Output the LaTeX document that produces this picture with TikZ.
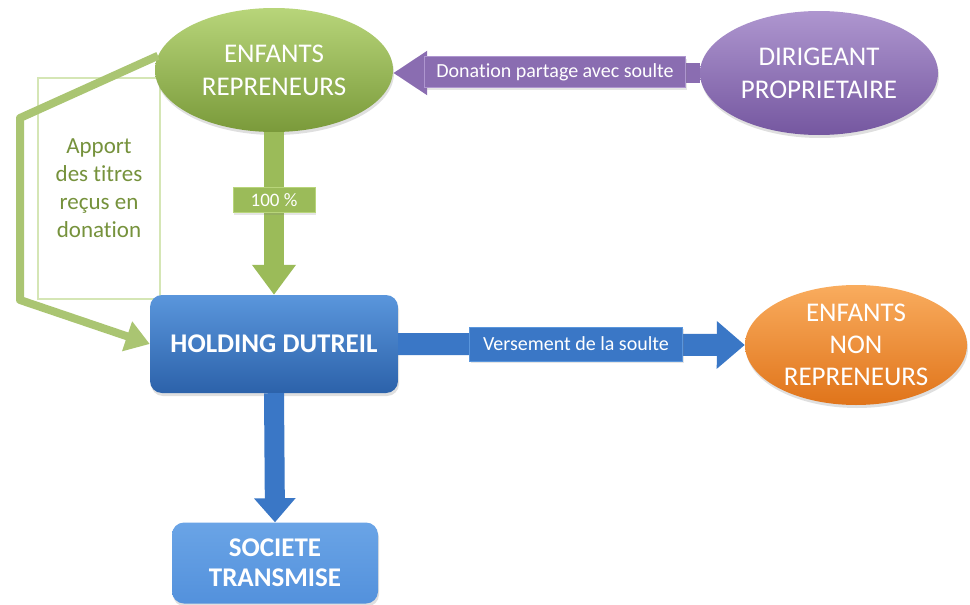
\documentclass[tikz,border=0pt]{standalone}
\usepackage{fontspec}
\setmainfont{Carlito}[Ligatures=NoCommon]
\usetikzlibrary{arrows.meta,shapes.geometric,shadows}
\definecolor{grn}{HTML}{9BBB59}
\definecolor{grnL}{HTML}{B8D57A}
\definecolor{grnD}{HTML}{7A9A3A}
\definecolor{grnT}{HTML}{76923C}
\definecolor{grnF}{HTML}{D5E6B5}
\definecolor{pur}{HTML}{8A6DB1}
\definecolor{purL}{HTML}{AE96CF}
\definecolor{purD}{HTML}{7557A0}
\definecolor{blu}{HTML}{3A77C6}
\definecolor{bluL}{HTML}{5A96DC}
\definecolor{bluD}{HTML}{2C62AA}
\definecolor{sky}{HTML}{5391DC}
\definecolor{skyL}{HTML}{6AA4E6}
\definecolor{orgL}{HTML}{F9AC5E}
\definecolor{orgD}{HTML}{E0741A}
\tikzset{
  ell/.style={ellipse, text=white, align=center, font=\fontsize{27}{33}\selectfont, inner sep=0pt,
    drop shadow={opacity=0.25,shadow xshift=1pt,shadow yshift=-3pt}},
  rbox/.style={rounded corners=12pt, text=white, align=center, font=\bfseries\fontsize{27}{30}\selectfont, inner sep=0pt,
    drop shadow={opacity=0.25,shadow xshift=1pt,shadow yshift=-3pt}},
  lbl/.style={text=white, font=\fontsize{20}{22}\selectfont, inner sep=0pt,
    drop shadow={opacity=0.2,shadow xshift=1pt,shadow yshift=-2pt}},
}
\begin{document}
\begin{tikzpicture}[x=1pt,y=-1pt]
\useasboundingbox (0,0) rectangle (970,605);
\fill[white] (0,0) rectangle (970,605);

% frame of the side text
\node[draw=grnF, line width=2pt, minimum width=122pt, minimum height=221pt, inner sep=0pt,
      text=grnT, align=center, font=\fontsize{23}{28}\selectfont] (apport) at (99,188)
      {Apport\\des titres\\reçus en\\donation};

% nodes
\node[ell, top color=grnL, bottom color=grnD, minimum width=238pt, minimum height=124pt] (enf) at (274,70) {ENFANTS\\REPRENEURS};
\node[ell, top color=purL, bottom color=purD, minimum width=238pt, minimum height=124pt] (dir) at (819,73) {DIRIGEANT\\PROPRIETAIRE};
\node[rbox, top color=bluL, bottom color=bluD, minimum width=248pt, minimum height=98pt] (hold) at (274,344) {HOLDING DUTREIL};
\node[rbox, top color=skyL, bottom color=sky, minimum width=206pt, minimum height=81pt] (soc) at (275,563) {SOCIETE\\TRANSMISE};
\node[ell, top color=orgL, bottom color=orgD, minimum width=222pt, minimum height=120pt, font=\fontsize{27}{32}\selectfont] (nonrep) at (856,345) {ENFANTS\\NON\\REPRENEURS};

% connectors
\draw[pur, line width=20pt, -{Triangle[width=42pt,length=34pt]}] (dir.west) -- (dir.west -| enf.east);
\draw[grn, line width=20pt, -{Triangle[width=42pt,length=30pt]}] (enf.south) -- (hold.north);
\draw[grn!85!white, line width=8pt, line join=round, -{Triangle[width=30pt,length=24pt]}]
   (enf.173) -- (20,118) -- (20,300) -- (hold.west);
\draw[blu, line width=22pt, -{Triangle[width=46pt,length=28pt]}] (hold.east) -- (nonrep.west);
\draw[blu, line width=20pt, -{Triangle[width=40pt,length=24pt]}] (hold.south) -- (soc.north);

% connector labels
\node[lbl, fill=pur, draw=purL, minimum width=261pt, minimum height=31pt] (l1) at (555,72) {Donation partage avec soulte};
\node[lbl, fill=grn, draw=grnL, minimum width=82pt, minimum height=25pt, font=\fontsize{19}{21}\selectfont] (l2) at (274,200) {100 \%};
\node[lbl, fill=blu, draw=bluL, minimum width=213pt, minimum height=34pt] (l3) at (576,344) {Versement de la soulte};
\end{tikzpicture}
\end{document}
